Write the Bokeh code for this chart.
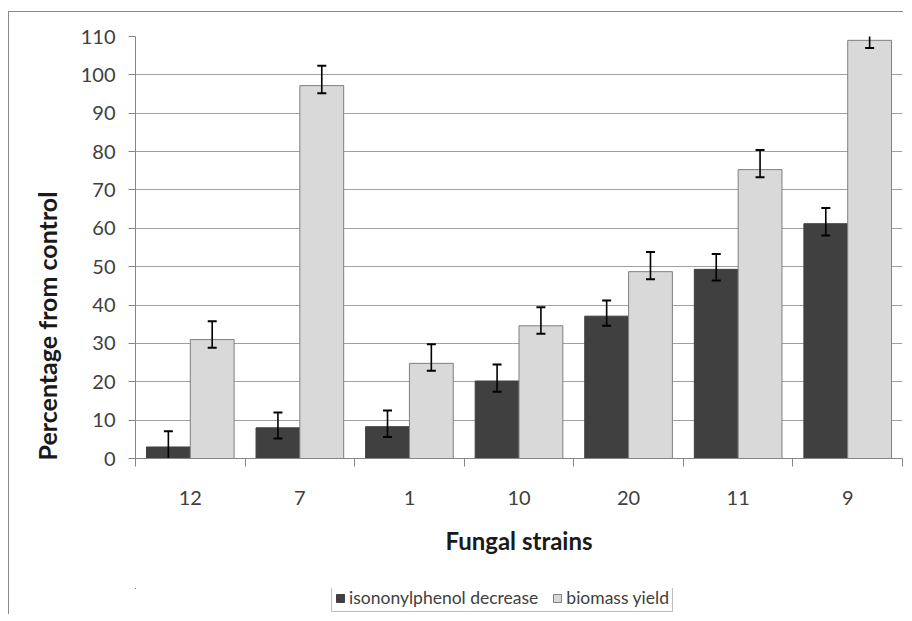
from bokeh.plotting import figure
from bokeh.layouts import column
from bokeh.models import (ColumnDataSource, FixedTicker, Legend, LegendItem, Title, Range1d)
from bokeh.embed import file_html
from bokeh.resources import INLINE

# ---- data ----
strains = ["12", "7", "1", "10", "20", "11", "9"]
decrease = [3.0, 8.0, 8.3, 20.2, 37.1, 49.3, 61.2]
decrease_err_hi = [7.1, 12.0, 12.5, 24.5, 41.2, 53.3, 65.3]
decrease_err_lo = [-1.0, 5.2, 5.6, 17.4, 34.6, 46.4, 58.1]
biomass = [31.0, 97.2, 24.8, 34.6, 48.7, 75.3, 109.0]
biomass_err_hi = [35.8, 102.4, 29.8, 39.4, 53.8, 80.4, 114.0]
biomass_err_lo = [28.9, 95.2, 22.9, 32.5, 46.7, 73.3, 107.0]
y_ticks = [0, 10, 20, 30, 40, 50, 60, 70, 80, 90, 100, 110]
series_names = ["isononylphenol decrease", "biomass yield"]

FONT = "Lato"
DARK = "#404040"
LIGHT = "#d9d9d9"
LIGHT_EDGE = "#7f7f7f"
AXIS = "#868686"

idx = list(range(len(strains)))
bar_w = 0.4
src = ColumnDataSource(dict(
    xd=[i + 0.5 - bar_w / 2 for i in idx],
    xl=[i + 0.5 + bar_w / 2 for i in idx],
    dec=decrease, dec_hi=decrease_err_hi, dec_lo=decrease_err_lo,
    bio=biomass, bio_hi=biomass_err_hi, bio_lo=biomass_err_lo,
))

p = figure(
    output_backend="svg", toolbar_location=None,
    frame_width=767, frame_height=422,
    x_range=Range1d(0, len(strains)), y_range=Range1d(0, 110),
    min_border_left=126, min_border_top=24, min_border_right=1, min_border_bottom=130,
)
p.outline_line_color = None
p.background_fill_color = "white"
p.border_fill_color = "white"

r_dark = p.vbar(x="xd", top="dec", width=bar_w, source=src, fill_color=DARK, line_color=DARK, line_width=1)
r_light = p.vbar(x="xl", top="bio", width=bar_w, source=src, fill_color=LIGHT, line_color=LIGHT_EDGE, line_width=1)

# error bars
for xcol, hi, lo in (("xd", "dec_hi", "dec_lo"), ("xl", "bio_hi", "bio_lo")):
    p.segment(x0=xcol, y0=lo, x1=xcol, y1=hi, source=src, line_color="black", line_width=1.6)
    p.scatter(x=xcol, y=hi, source=src, marker="dash", size=9, line_color="black", line_width=2)
    p.scatter(x=xcol, y=lo, source=src, marker="dash", size=9, line_color="black", line_width=2)

# grid
p.xgrid.grid_line_color = None
p.ygrid.grid_line_color = "#a0a0a0"
p.ygrid.grid_line_width = 1

# y axis
p.yaxis.ticker = FixedTicker(ticks=y_ticks, minor_ticks=[])
p.yaxis.axis_line_color = AXIS
p.yaxis.major_tick_line_color = AXIS
p.yaxis.major_tick_out = 7
p.yaxis.major_tick_in = 0
p.yaxis.minor_tick_line_color = None
p.yaxis.major_label_text_font = FONT
p.yaxis.major_label_text_font_size = "20px"
p.yaxis.major_label_text_color = "#404040"
p.yaxis.major_label_standoff = 13

# x axis: labels at centres, ticks at category boundaries
centers = [i + 0.5 for i in idx]
p.xaxis.ticker = FixedTicker(ticks=centers, minor_ticks=[i for i in range(len(strains) + 1)])
p.xaxis.major_label_overrides = {c: s for c, s in zip(centers, strains)}
p.xaxis.axis_line_color = AXIS
p.xaxis.major_tick_line_color = None
p.xaxis.major_tick_out = 0
p.xaxis.major_tick_in = 0
p.xaxis.minor_tick_line_color = AXIS
p.xaxis.minor_tick_out = 8
p.xaxis.minor_tick_in = 0
p.xaxis.major_label_text_font = FONT
p.xaxis.major_label_text_font_size = "20px"
p.xaxis.major_label_text_color = "#404040"
p.xaxis.major_label_standoff = 24
p.xaxis.axis_label = "Fungal strains"
p.xaxis.axis_label_text_font = FONT
p.xaxis.axis_label_text_font_size = "24px"
p.xaxis.axis_label_text_font_style = "bold"
p.xaxis.axis_label_text_color = "#1a1a1a"
p.xaxis.axis_label_standoff = 18

# y title (sits towards the bottom, like the reference)
ytitle = Title(text="Percentage from control", align="left", text_font=FONT,
               text_font_size="25px", text_font_style="bold", text_color="#1a1a1a",
               standoff=31, offset=-2)
p.add_layout(ytitle, "left")

# legend strip below the chart (same horizontal frame as the chart); the bars
# are re-drawn from the same data but fall entirely outside this strip's ranges
n = len(strains)
pl = figure(
    output_backend="svg", toolbar_location=None,
    frame_width=767, frame_height=26,
    x_range=Range1d(n + 2, n + 3), y_range=Range1d(-2, -1),
    min_border_left=126, min_border_top=0, min_border_right=1, min_border_bottom=0,
)
pl.axis.visible = False
pl.grid.grid_line_color = None
pl.outline_line_color = None
pl.border_fill_color = "white"
pl.background_fill_color = "white"
lg_dark = pl.vbar(x="xd", top="dec", width=bar_w, source=src, fill_color=DARK, line_color=DARK)
lg_light = pl.vbar(x="xl", top="bio", width=bar_w, source=src, fill_color=LIGHT, line_color=LIGHT_EDGE)

legend = Legend(
    items=[LegendItem(label=series_names[0], renderers=[lg_dark]),
           LegendItem(label=series_names[1], renderers=[lg_light])],
    orientation="horizontal", location=(196, 2),
    label_text_font=FONT, label_text_font_size="17.5px", label_text_color="#404040",
    border_line_color="#808080", border_line_width=1,
    glyph_width=10, glyph_height=10, label_standoff=4, spacing=14,
    padding=3, margin=0, label_height=17,
)
pl.add_layout(legend, "center")

layout = column(p, pl, spacing=0,
                styles={"border-top": "1px solid #8a8a8a", "border-left": "1px solid #8a8a8a",
                        "margin-top": "11px", "margin-left": "8px"})

open("out.html", "w").write(file_html(layout, INLINE))
